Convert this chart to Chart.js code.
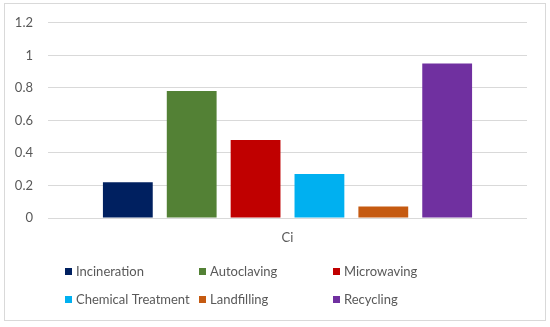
<!DOCTYPE html>
<html lang="en">
<head>
    <meta charset="UTF-8">
    <title>Ci</title>
    <script src="https://cdn.jsdelivr.net/npm/chart.js"></script>
    <style>
        body { margin: 0; background: #fff; }
        #wrap { width: 550px; height: 327px; }
    </style>
</head>
<body>
<div id="wrap"><canvas id="ciChart"></canvas></div>

<script>
    // data
    var categories = ['Ci'];
    var methods = ['Incineration', 'Autoclaving', 'Microwaving', 'Chemical Treatment', 'Landfilling', 'Recycling'];
    var ciValues = [0.22, 0.78, 0.48, 0.27, 0.07, 0.95];
    var colors = ['#002060', '#538135', '#C00000', '#00B0F0', '#C55A11', '#7030A0'];

    var textColor = '#595959';
    var gridColor = '#d9d9d9';
    var fontFamily = 'Lato, "Open Sans", sans-serif';

    var datasets = methods.map(function(name, i) {
        return {
            label: name,
            data: [ciValues[i]],
            backgroundColor: colors[i]
        };
    });

    // outer frame + legend laid out in equal columns like Excel
    var frameAndLegend = {
        id: 'frameAndLegend',
        beforeDraw: function(chart) {
            var ctx = chart.ctx;
            ctx.save();
            ctx.fillStyle = '#fff';
            ctx.fillRect(0, 0, chart.width, chart.height);
            ctx.strokeStyle = gridColor;
            ctx.lineWidth = 1;
            ctx.strokeRect(4.5, 3.5, 541, 317);
            ctx.restore();
        },
        afterDraw: function(chart) {
            var ctx = chart.ctx;
            var colX = [65, 199, 333];
            var rowY = [272, 300];
            ctx.save();
            ctx.font = '13px ' + fontFamily;
            ctx.textBaseline = 'middle';
            chart.data.datasets.forEach(function(ds, i) {
                var x = colX[i % 3];
                var y = rowY[Math.floor(i / 3)];
                ctx.fillStyle = ds.backgroundColor;
                ctx.fillRect(x, y - 4, 7, 7);
                ctx.fillStyle = textColor;
                ctx.fillText(ds.label, x + 11, y);
            });
            ctx.restore();
        }
    };

    var ctx = document.getElementById('ciChart').getContext('2d');
    new Chart(ctx, {
        type: 'bar',
        data: {
            labels: categories,
            datasets: datasets
        },
        options: {
            responsive: true,
            maintainAspectRatio: false,
            animation: false,
            categoryPercentage: 0.8,
            barPercentage: 0.78,
            layout: {
                padding: { left: 10, right: 23, top: 21, bottom: 0 }
            },
            plugins: {
                legend: { display: false },
                tooltip: { enabled: false }
            },
            scales: {
                x: {
                    grid: { display: false, drawTicks: false },
                    border: { display: false },
                    ticks: {
                        color: textColor,
                        padding: 12,
                        font: { family: fontFamily, size: 13 }
                    },
                    afterFit: function(scale) { scale.height = 109; }
                },
                y: {
                    min: 0,
                    max: 1.2,
                    ticks: {
                        stepSize: 0.2,
                        color: textColor,
                        padding: 15,
                        font: { family: fontFamily, size: 13 },
                        callback: function(v) { return String(Math.round(v * 10) / 10); }
                    },
                    grid: { color: gridColor, drawTicks: false },
                    border: { display: false },
                    afterFit: function(scale) { scale.width = 38; }
                }
            }
        },
        plugins: [frameAndLegend]
    });
</script>
</body>
</html>
